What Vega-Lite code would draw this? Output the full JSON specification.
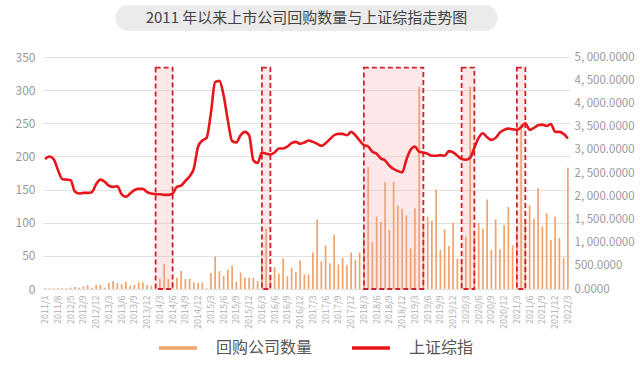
{
  "$schema": "https://vega.github.io/schema/vega-lite/v6.json",
  "background": "white",
  "padding": {"left": 15, "top": 5, "right": 0, "bottom": 38},
  "config": {"font": "Noto Sans CJK SC", "view": {"stroke": null}},
  "center": true,
  "bounds": "flush",
  "spacing": 26,
  "datasets": {
    "main": [
      {"month":"2011/1","count":1,"index":2800},
      {"month":"2011/3","count":1,"index":2857},
      {"month":"2011/5","count":1,"index":2800},
      {"month":"2011/8","count":1,"index":2571},
      {"month":"2011/11","count":1,"index":2371},
      {"month":"2012/2","count":1,"index":2357},
      {"month":"2012/5","count":2,"index":2343},
      {"month":"2012/6","count":3,"index":2100},
      {"month":"2012/7","count":2,"index":2057},
      {"month":"2012/9","count":4,"index":2071},
      {"month":"2012/10","count":6,"index":2071},
      {"month":"2012/11","count":2,"index":2086},
      {"month":"2012/12","count":6,"index":2257},
      {"month":"2013/1","count":6,"index":2357},
      {"month":"2013/2","count":2,"index":2314},
      {"month":"2013/3","count":9,"index":2229},
      {"month":"2013/4","count":12,"index":2200},
      {"month":"2013/5","count":9,"index":2214},
      {"month":"2013/6","count":7,"index":2043},
      {"month":"2013/7","count":11,"index":1986},
      {"month":"2013/8","count":5,"index":2057},
      {"month":"2013/9","count":6,"index":2129},
      {"month":"2013/10","count":10,"index":2157},
      {"month":"2013/11","count":10,"index":2157},
      {"month":"2013/12","count":6,"index":2086},
      {"month":"2014/1","count":5,"index":2057},
      {"month":"2014/2","count":6,"index":2043},
      {"month":"2014/3","count":16,"index":2043},
      {"month":"2014/4","count":38,"index":2029},
      {"month":"2014/5","count":15,"index":2029},
      {"month":"2014/6","count":11,"index":2057},
      {"month":"2014/7","count":17,"index":2200},
      {"month":"2014/8","count":27,"index":2229},
      {"month":"2014/9","count":15,"index":2329},
      {"month":"2014/10","count":15,"index":2429},
      {"month":"2014/11","count":10,"index":2600},
      {"month":"2014/12","count":9,"index":3071},
      {"month":"2015/1","count":10,"index":3200},
      {"month":"2015/2","count":1,"index":3257},
      {"month":"2015/3","count":24,"index":3786},
      {"month":"2015/4","count":49,"index":4457},
      {"month":"2015/5","count":27,"index":4486},
      {"month":"2015/6","count":20,"index":4171},
      {"month":"2015/7","count":29,"index":3629},
      {"month":"2015/8","count":35,"index":3186},
      {"month":"2015/9","count":11,"index":3157},
      {"month":"2015/10","count":25,"index":3314},
      {"month":"2015/11","count":17,"index":3386},
      {"month":"2015/12","count":17,"index":3314},
      {"month":"2016/1","count":17,"index":2771},
      {"month":"2016/2","count":12,"index":2714},
      {"month":"2016/3","count":47,"index":2943},
      {"month":"2016/4","count":91,"index":2914},
      {"month":"2016/5","count":20,"index":2900},
      {"month":"2016/6","count":33,"index":2943},
      {"month":"2016/7","count":23,"index":3029},
      {"month":"2016/8","count":46,"index":3029},
      {"month":"2016/9","count":19,"index":3071},
      {"month":"2016/10","count":32,"index":3143},
      {"month":"2016/11","count":26,"index":3171},
      {"month":"2016/12","count":43,"index":3129},
      {"month":"2017/1","count":22,"index":3157},
      {"month":"2017/2","count":22,"index":3200},
      {"month":"2017/3","count":55,"index":3171},
      {"month":"2017/4","count":105,"index":3129},
      {"month":"2017/5","count":42,"index":3086},
      {"month":"2017/6","count":66,"index":3143},
      {"month":"2017/7","count":39,"index":3229},
      {"month":"2017/8","count":82,"index":3314},
      {"month":"2017/9","count":37,"index":3343},
      {"month":"2017/10","count":47,"index":3343},
      {"month":"2017/11","count":36,"index":3314},
      {"month":"2017/12","count":55,"index":3386},
      {"month":"2018/1","count":44,"index":3314},
      {"month":"2018/2","count":55,"index":3200},
      {"month":"2018/3","count":82,"index":3100},
      {"month":"2018/4","count":184,"index":3071},
      {"month":"2018/5","count":71,"index":2957},
      {"month":"2018/6","count":109,"index":2914},
      {"month":"2018/7","count":101,"index":2814},
      {"month":"2018/8","count":161,"index":2771},
      {"month":"2018/9","count":89,"index":2657},
      {"month":"2018/10","count":162,"index":2586},
      {"month":"2018/11","count":126,"index":2543},
      {"month":"2018/12","count":121,"index":2514},
      {"month":"2019/1","count":111,"index":2786},
      {"month":"2019/2","count":61,"index":3000},
      {"month":"2019/3","count":122,"index":3071},
      {"month":"2019/4","count":305,"index":2957},
      {"month":"2019/5","count":100,"index":2943},
      {"month":"2019/6","count":109,"index":2914},
      {"month":"2019/7","count":103,"index":2871},
      {"month":"2019/8","count":150,"index":2871},
      {"month":"2019/9","count":59,"index":2886},
      {"month":"2019/10","count":90,"index":2871},
      {"month":"2019/11","count":65,"index":2971},
      {"month":"2019/12","count":100,"index":2943},
      {"month":"2020/1","count":46,"index":2871},
      {"month":"2020/2","count":45,"index":2800},
      {"month":"2020/3","count":79,"index":2786},
      {"month":"2020/4","count":305,"index":2829},
      {"month":"2020/5","count":80,"index":3043},
      {"month":"2020/6","count":100,"index":3257},
      {"month":"2020/7","count":91,"index":3357},
      {"month":"2020/8","count":135,"index":3271},
      {"month":"2020/9","count":59,"index":3214},
      {"month":"2020/10","count":105,"index":3257},
      {"month":"2020/11","count":60,"index":3371},
      {"month":"2020/12","count":96,"index":3429},
      {"month":"2021/1","count":124,"index":3457},
      {"month":"2021/2","count":66,"index":3443},
      {"month":"2021/3","count":95,"index":3429},
      {"month":"2021/4","count":249,"index":3486},
      {"month":"2021/5","count":105,"index":3571},
      {"month":"2021/6","count":126,"index":3429},
      {"month":"2021/7","count":106,"index":3471},
      {"month":"2021/8","count":152,"index":3529},
      {"month":"2021/9","count":94,"index":3543},
      {"month":"2021/10","count":114,"index":3514},
      {"month":"2021/11","count":74,"index":3557},
      {"month":"2021/12","count":109,"index":3386},
      {"month":"2022/1","count":77,"index":3386},
      {"month":"2022/2","count":47,"index":3343},
      {"month":"2022/3","count":183,"index":3243}
    ],
    "boxes": [
      {"start":"2014/2","end":"2014/6"},
      {"start":"2016/3","end":"2016/5"},
      {"start":"2018/3","end":"2019/5"},
      {"start":"2020/2","end":"2020/5"},
      {"start":"2021/3","end":"2021/5"}
    ]
  },
  "vconcat": [
    {
      "width": 382,
      "height": 26,
      "view": {"fill": "#ebebeb", "cornerRadius": 13, "stroke": null},
      "data": {"values": [{"t": "2011 年以来上市公司回购数量与上证综指走势图"}]},
      "mark": {"type": "text", "fontSize": 15, "color": "#444444", "baseline": "middle", "align": "center"},
      "encoding": {"text": {"field": "t", "type": "nominal"}}
    },
    {
      "width": 527,
      "height": 232,
      "layer": [
        {
          "data": {"name": "main"},
          "mark": {"type": "bar", "size": 1.7},
          "encoding": {
            "x": {
              "field": "month", "type": "ordinal",
              "scale": {"domain": ["2011/1","2011/3","2011/5","2011/8","2011/11","2012/2","2012/5","2012/6","2012/7","2012/9","2012/10","2012/11","2012/12","2013/1","2013/2","2013/3","2013/4","2013/5","2013/6","2013/7","2013/8","2013/9","2013/10","2013/11","2013/12","2014/1","2014/2","2014/3","2014/4","2014/5","2014/6","2014/7","2014/8","2014/9","2014/10","2014/11","2014/12","2015/1","2015/2","2015/3","2015/4","2015/5","2015/6","2015/7","2015/8","2015/9","2015/10","2015/11","2015/12","2016/1","2016/2","2016/3","2016/4","2016/5","2016/6","2016/7","2016/8","2016/9","2016/10","2016/11","2016/12","2017/1","2017/2","2017/3","2017/4","2017/5","2017/6","2017/7","2017/8","2017/9","2017/10","2017/11","2017/12","2018/1","2018/2","2018/3","2018/4","2018/5","2018/6","2018/7","2018/8","2018/9","2018/10","2018/11","2018/12","2019/1","2019/2","2019/3","2019/4","2019/5","2019/6","2019/7","2019/8","2019/9","2019/10","2019/11","2019/12","2020/1","2020/2","2020/3","2020/4","2020/5","2020/6","2020/7","2020/8","2020/9","2020/10","2020/11","2020/12","2021/1","2021/2","2021/3","2021/4","2021/5","2021/6","2021/7","2021/8","2021/9","2021/10","2021/11","2021/12","2022/1","2022/2","2022/3"]},
              "axis": {
                "values": ["2011/1","2011/8","2012/5","2012/9","2012/12","2013/3","2013/6","2013/9","2013/12","2014/3","2014/6","2014/9","2014/12","2015/3","2015/6","2015/9","2015/12","2016/3","2016/6","2016/9","2016/12","2017/3","2017/6","2017/9","2017/12","2018/3","2018/6","2018/9","2018/12","2019/3","2019/6","2019/9","2019/12","2020/3","2020/6","2020/9","2020/12","2021/3","2021/6","2021/9","2021/12","2022/3"],
                "labelAngle": -90, "labelFontSize": 9, "labelColor": "#b0b0b0",
                "ticks": false, "domain": false, "grid": false, "title": null, "labelPadding": 6
              }
            },
            "y": {
              "field": "count", "type": "quantitative",
              "scale": {"domain": [0, 350], "nice": false},
              "axis": {
                "values": [0, 50, 100, 150, 200, 250, 300, 350],
                "grid": true, "gridColor": "#e2e2e2", "domain": false, "ticks": false,
                "labelColor": "#999999", "labelFontSize": 12, "labelPadding": 8, "title": null
              }
            },
            "color": {
              "datum": "回购公司数量",
              "scale": {"domain": ["回购公司数量", "上证综指"], "range": ["#F0A36B", "#E8161B"]},
              "legend": {
                "orient": "none", "legendX": 114, "legendY": 322, "direction": "horizontal",
                "title": null, "symbolType": "stroke", "symbolSize": 1444, "symbolStrokeWidth": 3.5,
                "labelFontSize": 16, "labelColor": "#555555", "labelOffset": 17, "columnPadding": 32, "padding": 0,
                "encode": {"symbols": {"update": {"stroke": {"scale": "color", "field": "value"}}}}
              }
            }
          }
        },
        {
          "data": {"name": "boxes"},
          "mark": {"type": "rect", "fill": "#f2a0a0", "fillOpacity": 0.24, "stroke": "#d0212b", "strokeDash": [5, 3], "strokeWidth": 1.8},
          "encoding": {
            "x": {"field": "start", "type": "ordinal", "bandPosition": 0.5},
            "x2": {"field": "end", "bandPosition": 0.5},
            "y": {"datum": 334, "type": "quantitative", "scale": {"domain": [0, 350], "nice": false}, "axis": null},
            "y2": {"datum": 0}
          }
        },
        {
          "data": {"name": "main"},
          "mark": {"type": "line", "strokeWidth": 2.6, "interpolate": "monotone"},
          "encoding": {
            "x": {"field": "month", "type": "ordinal"},
            "y": {
              "field": "index", "type": "quantitative",
              "scale": {"domain": [0, 5000], "nice": false},
              "axis": {
                "orient": "right", "values": [0, 500, 1000, 1500, 2000, 2500, 3000, 3500, 4000, 4500, 5000],
                "labelExpr": "replace(format(datum.value, ',.4f'), ',', ', ')",
                "grid": false, "domain": false, "ticks": false,
                "labelColor": "#999999", "labelFontSize": 11.5, "labelPadding": 4, "title": null
              }
            },
            "color": {"datum": "上证综指"}
          }
        }
      ],
      "resolve": {"scale": {"y": "independent"}}
    }
  ]
}
